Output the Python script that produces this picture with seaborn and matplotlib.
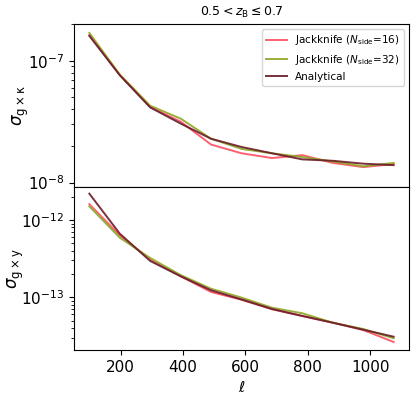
import numpy as np
import pandas as pd
import matplotlib
matplotlib.use("Agg")
import matplotlib.pyplot as plt
import seaborn as sns

# multipole bin centres
ell = [100, 197.5, 295, 392.5, 490, 587.5, 685, 782.5, 880, 977.5, 1075]

# sigma for g x kappa
gk_jk16 = [1.62e-7, 7.65e-8, 4.17e-8, 3.16e-8, 2.05e-8, 1.74e-8, 1.59e-8, 1.68e-8, 1.45e-8, 1.34e-8, 1.42e-8]
gk_jk32 = [1.69e-7, 7.70e-8, 4.27e-8, 3.35e-8, 2.29e-8, 1.89e-8, 1.74e-8, 1.62e-8, 1.49e-8, 1.36e-8, 1.45e-8]
gk_ana = [1.60e-7, 7.60e-8, 4.14e-8, 3.05e-8, 2.29e-8, 1.96e-8, 1.74e-8, 1.55e-8, 1.51e-8, 1.43e-8, 1.39e-8]

# sigma for g x y
gy_jk16 = [1.60e-12, 6.34e-13, 3.06e-13, 1.87e-13, 1.17e-13, 9.29e-14, 7.00e-14, 5.73e-14, 4.69e-14, 3.77e-14, 2.64e-14]
gy_jk32 = [1.50e-12, 5.90e-13, 3.22e-13, 1.94e-13, 1.29e-13, 9.91e-14, 7.33e-14, 6.21e-14, 4.69e-14, 3.89e-14, 2.95e-14]
gy_ana = [2.19e-12, 6.65e-13, 2.95e-13, 1.87e-13, 1.23e-13, 9.38e-14, 7.06e-14, 5.73e-14, 4.69e-14, 3.81e-14, 3.09e-14]

labels = [r"Jackknife ($N_{\rm side}$=16)", r"Jackknife ($N_{\rm side}$=32)", "Analytical"]
colors = ["#ff4f62", "#8ea626", "#6a1c28"]


def long_table(series):
    rows = []
    for lab, vals in zip(labels, series):
        for x, v in zip(ell, vals):
            rows.append({"ell": x, "sigma": v, "method": lab})
    return pd.DataFrame(rows)


df_gk = long_table([gk_jk16, gk_jk32, gk_ana])
df_gy = long_table([gy_jk16, gy_jk32, gy_ana])
palette = dict(zip(labels, colors))

fig, (ax1, ax2) = plt.subplots(2, 1, sharex=True, figsize=(4.16, 3.97), dpi=100)
fig.subplots_adjust(left=0.178, right=0.983, top=0.9395, bottom=0.1184, hspace=0)

sns.lineplot(data=df_gk, x="ell", y="sigma", hue="method", palette=palette,
             ax=ax1, lw=1.4, alpha=0.9)
sns.lineplot(data=df_gy, x="ell", y="sigma", hue="method", palette=palette,
             ax=ax2, lw=1.4, alpha=0.9, legend=False)

for ax in (ax1, ax2):
    ax.set_yscale("log")
    ax.tick_params(labelsize=11)

ax1.set_ylim(9.2e-9, 2.0e-7)
ax2.set_ylim(2.08e-14, 2.67e-12)
ax1.set_xlim(51, 1124)

ax1.tick_params(axis="x", bottom=False, labelbottom=False)
ax1.set_xlabel("")
ax1.set_ylabel(r"$\sigma_{\rm g\times\kappa}$", fontsize=12)
ax2.set_ylabel(r"$\sigma_{\rm g\times y}$", fontsize=12)
ax1.yaxis.set_label_coords(-0.128, 0.5)
ax2.yaxis.set_label_coords(-0.143, 0.5)
ax2.set_xlabel(r"$\ell$", fontsize=11)
ax1.set_title(r"$0.5 < z_{\rm B} \leq 0.7$", fontsize=9)

ax1.legend(title=None, fontsize=7.5, loc="upper right")

fig.savefig("out.png", dpi=100)
